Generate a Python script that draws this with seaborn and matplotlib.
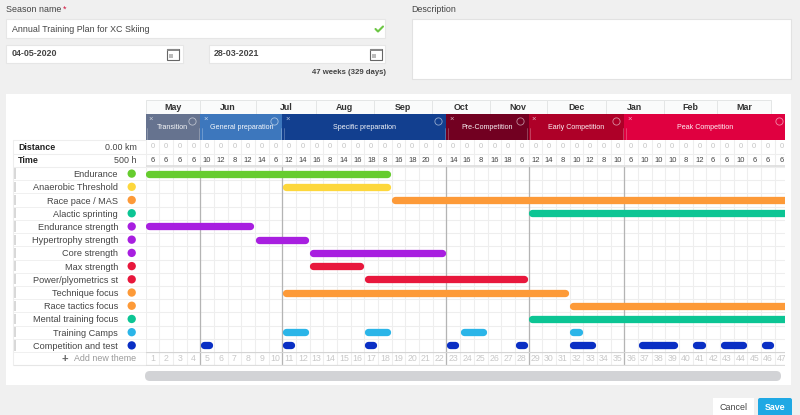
import matplotlib
matplotlib.use("Agg")
import matplotlib.pyplot as plt
from matplotlib.patches import FancyBboxPatch, Rectangle
import pandas as pd
import seaborn as sns

themes = ["Endurance", "Anaerobic Threshold", "Race pace / MAS", "Alactic sprinting",
          "Endurance strength", "Hypertrophy strength", "Core strength", "Max strength",
          "Power/plyometrics st", "Technique focus", "Race tactics focus",
          "Mental training focus", "Training Camps", "Competition and test"]
theme_colors = ["#66cc2e", "#fdd73c", "#fd9a38", "#0cc594", "#a81fe0", "#a81fe0", "#a81fe0",
                "#e8173c", "#e8173c", "#fd9a38", "#fd9a38", "#0cc594", "#2bb5e8", "#0a2fc4"]
segment_theme = [0, 1, 2, 3, 4, 5, 6, 7, 8, 9, 10, 11, 12, 12, 12, 12,
                 13, 13, 13, 13, 13, 13, 13, 13, 13, 13]
segment_start = [0, 10, 18, 28, 0, 8, 12, 12, 16, 10, 31, 28, 10, 16, 23, 31,
                 4, 10, 16, 22, 27, 31, 36, 40, 42, 45]
segment_end = [18, 18, 47, 47, 8, 12, 22, 16, 28, 31, 47, 47, 12, 18, 25, 32,
               5, 11, 17, 23, 28, 33, 39, 41, 44, 46]
months = ["May", "Jun", "Jul", "Aug", "Sep", "Oct", "Nov", "Dec", "Jan", "Feb", "Mar"]
month_edges = [0, 3.95, 8.11, 12.44, 16.68, 20.92, 25.16, 29.33, 33.64, 37.9, 41.78, 45.7]
phases = ["Transition", "General preparation", "Specific preparation", "Pre-Competition",
          "Early Competition", "Peak Competition"]
phase_edges = [0, 4, 10, 22, 28, 35, 47]
phase_colors = ["#66738f", "#3d77bd", "#123f8f", "#720021", "#ae0028", "#e00040"]
hours = [6, 6, 6, 6, 10, 12, 8, 12, 14, 6, 12, 14, 16, 8, 14, 16, 18, 8, 16, 18, 20, 6,
         14, 16, 8, 16, 18, 6, 12, 14, 8, 10, 12, 8, 10, 6, 10, 10, 10, 8, 12, 6, 6, 10, 6, 6, 6]
distance = [0] * 47

sns.set_theme(style="white")
plt.rcParams["font.family"] = ["Liberation Sans", "DejaVu Sans"]
W, H = 800, 415
GX0, GX1 = 145.5, 785.0
GY0, GY1 = 167.0, 352.0
NW = len(hours)
PXW = 13.68
XMAX = (GX1 - GX0) / PXW
TXT = "#444444"
FS = 6.4

fig = plt.figure(figsize=(W / 100, H / 100), dpi=100, facecolor="#f0f0f0")

def axes_px(x0, y0, x1, y1, **kw):
    return fig.add_axes([x0 / W, 1 - y1 / H, (x1 - x0) / W, (y1 - y0) / H], **kw)

# page chrome in pixel coordinates
page = axes_px(0, 0, W, H, zorder=0)
page.set_xlim(0, W); page.set_ylim(H, 0); page.axis("off")

def box(x0, y0, x1, y1, fc="white", ec="none", lw=0.8):
    page.add_patch(Rectangle((x0, y0), x1 - x0, y1 - y0, fc=fc, ec=ec, lw=lw))

def round_box(x0, y0, x1, y1, fc, r=3):
    page.add_patch(FancyBboxPatch((x0 + r, y0 + r), x1 - x0 - 2 * r, y1 - y0 - 2 * r,
                                  boxstyle=f"round,pad={r},rounding_size={r}", fc=fc, ec="none"))

def calendar(x, y):
    page.add_patch(Rectangle((x, y + 1), 12, 11.5, fc="white", ec="#666666", lw=0.8))
    page.add_patch(Rectangle((x, y + 1), 12, 2.5, fc="#888888", ec="none"))
    page.add_patch(Rectangle((x + 2, y + 6), 4, 4, fc="#bbbbbb", ec="none"))

page.text(6, 9, "Season name", fontsize=FS, color=TXT, va="center")
page.text(63, 9, "*", fontsize=FS, color="#d0103a", va="center")
box(6, 19.5, 385, 38, ec="#e6e6e6")
page.text(12, 29, "Annual Training Plan for XC Skiing", fontsize=FS, color=TXT, va="center")
page.plot([375.5, 378, 383], [29, 31.5, 26.5], color="#6cc644", lw=1.5)
box(6, 45, 183, 63, ec="#e6e6e6")
page.text(12, 54, "04-05-2020", fontsize=FS, color=TXT, va="center", fontweight="bold")
calendar(167, 48)
box(209, 45, 385, 63, ec="#e6e6e6")
page.text(214, 54, "28-03-2021", fontsize=FS, color=TXT, va="center", fontweight="bold")
calendar(369.5, 48)
page.text(386, 72, "47 weeks (329 days)", fontsize=5.6, color=TXT, va="center", ha="right",
          fontweight="bold")
page.text(411, 9, "Description", fontsize=FS, color=TXT, va="center")
box(411.5, 19.5, 790.5, 79, ec="#e2e2e2")

box(6, 94, 791, 385)
round_box(145, 371, 781, 381, "#d2d3d6", r=4.9)
box(713, 398, 754, 415)
page.text(733.5, 407, "Cancel", fontsize=FS, color=TXT, ha="center", va="center")
round_box(758, 398, 792, 418, "#1fa8e4", r=2)
page.text(775, 407, "Save", fontsize=FS, color="white", ha="center", va="center", fontweight="bold")

# left table frame
for y in [140.5, 153.7, 166.7]:
    page.plot([13, GX0], [y, y], color="#eeeeee", lw=0.8)
page.text(18, 147, "Distance", fontsize=FS, color="#222222", va="center", fontweight="bold")
page.text(137, 147, "0.00 km", fontsize=FS, color=TXT, va="center", ha="right")
page.text(18, 160, "Time", fontsize=FS, color="#222222", va="center", fontweight="bold")
page.text(137, 160, "500 h", fontsize=FS, color=TXT, va="center", ha="right")
row_px = (GY1 - GY0) / len(themes)
for i in range(len(themes)):
    page.add_patch(Rectangle((14, GY0 + i * row_px + 1.5), 2, row_px - 3, fc="#d8d8d8", ec="none"))
    page.plot([13, GX0], [GY0 + (i + 1) * row_px] * 2, color="#f0f0f0", lw=0.7)
page.plot([13, GX0], [365.3, 365.3], color="#e6e6e6", lw=0.8)
page.plot([13, 13], [140.5, 365.3], color="#eeeeee", lw=0.8)
page.text(64.5, 358.5, "+", fontsize=8, color="#666666", ha="center", va="center", fontweight="bold")
page.text(74, 358.5, "Add new theme", fontsize=FS, color="#999999", va="center")

# main gantt grid
df = pd.DataFrame({
    "theme": [themes[t] for t in segment_theme],
    "row": [t + 0.5 for t in segment_theme],
    "start": segment_start,
    "end": segment_end,
})
df["segment"] = range(len(df))
LW_PX = 7.3
inset = (LW_PX / 2) / PXW
end_gap = 1.0 / PXW
df["x0"] = df["start"] + inset
df["x1"] = [e if e >= NW else e - inset - end_gap for e in df["end"]]
long_df = pd.concat([
    df[["theme", "row", "segment"]].assign(week=df["x0"]),
    df[["theme", "row", "segment"]].assign(week=df["x1"]),
]).sort_values(["segment", "week"])

ax = axes_px(GX0, GY0, GX1, GY1, zorder=2)
ax.set_facecolor("white")
sns.lineplot(data=long_df, x="week", y="row", hue="theme", units="segment", estimator=None,
             sort=False, palette=dict(zip(themes, theme_colors)), legend=False,
             linewidth=LW_PX * 0.72, solid_capstyle="round", ax=ax, zorder=4)
dots = pd.DataFrame({"week": [-13.8 / PXW] * len(themes),
                     "row": [i + 0.5 for i in range(len(themes))], "theme": themes})
sns.scatterplot(data=dots, x="week", y="row", hue="theme", palette=dict(zip(themes, theme_colors)),
                s=36, linewidth=0, legend=False, clip_on=False, ax=ax, zorder=5)
ax.set_xlim(0, XMAX)
ax.set_ylim(len(themes), 0)
ax.set_xticks(range(NW))
ax.set_xticklabels([])
ax.set_yticks([i for i in range(len(themes) + 1)], minor=True)
ax.set_yticks([i + 0.5 for i in range(len(themes))], themes, fontsize=6.55, color=TXT)
ax.tick_params(axis="y", which="both", length=0, pad=19.8)
ax.tick_params(axis="x", length=0)
ax.grid(True, axis="x", color="#eeeeee", lw=0.8)
ax.grid(True, axis="y", which="minor", color="#eeeeee", lw=0.8)
ax.grid(False, axis="y", which="major")
ax.set_axisbelow(True)
ax.set_xlabel(""); ax.set_ylabel("")
for s in ax.spines.values():
    s.set_visible(False)
for e in phase_edges[1:-1]:
    ax.axvline(e, color="#b4b4b4", lw=0.9, zorder=3)

# header: months, phases, distance and time
hax = axes_px(GX0, 100, GX1, GY0, zorder=2)
hax.set_xlim(0, XMAX); hax.set_ylim(GY0, 100); hax.axis("off")
for name, a, b in zip(months, month_edges[:-1], month_edges[1:]):
    hax.add_patch(Rectangle((a, 100.3), b - a, 13.4, fc="#fafbfb", ec="#e4e6e6", lw=0.7))
    hax.text((a + b) / 2, 107, name, fontsize=FS, color="#333333", ha="center", va="center",
             fontweight="bold")
for name, a, b, c in zip(phases, phase_edges[:-1], phase_edges[1:], phase_colors):
    hax.barh(127.2, b - a, left=a, height=26.6, color=c, linewidth=0)
    hax.text((min(a, XMAX) + min(b, XMAX)) / 2, 127.5, name, fontsize=5.1, color="white",
             ha="center", va="center", alpha=0.95)
    hax.text(a + 0.4, 119.5, "×", fontsize=5.5, color="white", ha="center", va="center", alpha=0.7)
    hax.plot([min(b, XMAX + 0.2) - 0.62], [121], marker="o", ms=5.2, mfc="none", mec="white",
             mew=0.6, alpha=0.55)
    for x in (a + 0.12, b - 0.12):
        hax.plot([x, x], [128, 140], color="white", lw=0.5, alpha=0.35)
for i in range(NW):
    hax.plot([i, i], [140.5, GY0], color="#eeeeee", lw=0.8, zorder=1)
hax.plot([0, XMAX], [153.7, 153.7], color="#eeeeee", lw=0.8)
hax.plot([0, XMAX], [166.5, 166.5], color="#dddddd", lw=1.2)
for i, (d, h) in enumerate(zip(distance, hours)):
    hax.text(i + 0.5, 147, str(d), fontsize=5.5, color="#c4c4c4", ha="center", va="center", clip_on=True)
    hax.text(i + 0.5, 160, str(h), fontsize=5.5, color="#444444", ha="center", va="center", clip_on=True)

# footer: week numbers
fax = axes_px(GX0, GY1, GX1, 365.8, zorder=2)
fax.set_xlim(0, XMAX); fax.set_ylim(365.8, GY1); fax.axis("off")
for i in range(NW):
    fax.plot([i, i], [GY1, 365.3], color="#eeeeee", lw=0.8)
for e in phase_edges[1:-1]:
    fax.plot([e, e], [GY1, 365.3], color="#b4b4b4", lw=0.9)
fax.plot([0, XMAX], [GY1 + 0.2, GY1 + 0.2], color="#d4d4d4", lw=0.9)
fax.plot([0, XMAX], [365.3, 365.3], color="#dddddd", lw=0.9)
for i in range(NW):
    fax.text(i + 0.5, 358.5, str(i + 1), fontsize=6.3, color="#c8c8c8", ha="center", va="center",
             clip_on=True)

fig.savefig("out.png", dpi=100, facecolor=fig.get_facecolor())
